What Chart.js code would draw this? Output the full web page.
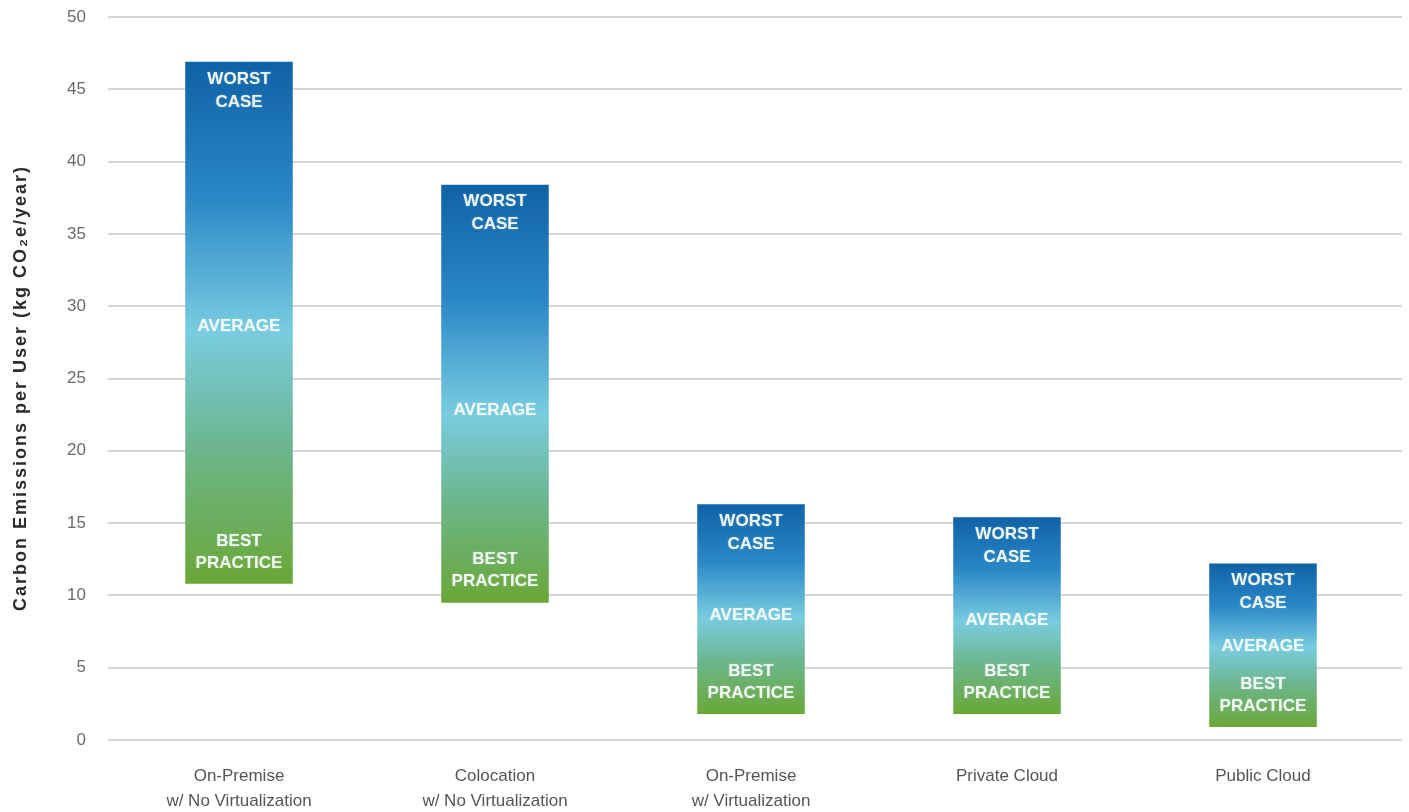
<!DOCTYPE html>
<html><head><meta charset="utf-8">
<script src="https://cdn.jsdelivr.net/npm/chart.js@4.4.0/dist/chart.umd.min.js"></script>
<style>html,body{margin:0;padding:0;background:#fff;}#wrap{width:1409px;height:812px;}</style>
</head><body><div id="wrap"><canvas id="c" width="1409" height="812"></canvas></div>
<script>
const categories = [["On-Premise","w/ No Virtualization"],["Colocation","w/ No Virtualization"],["On-Premise","w/ Virtualization"],"Private Cloud","Public Cloud"];
const worstCase = [46.9, 38.4, 16.3, 15.4, 12.2];
const averageCase = [28.6, 22.8, 8.6, 8.3, 6.5];
const bestPractice = [10.8, 9.5, 1.8, 1.8, 0.9];
const yTickValues = [0, 5, 10, 15, 20, 25, 30, 35, 40, 45, 50];
const yTitle = "Carbon Emissions per User (kg CO\u2082e/year)";
const worstLabel = ["WORST", "CASE"];
const avgLabel = "AVERAGE";
const bestLabel = ["BEST", "PRACTICE"];

const ranges = worstCase.map((w, i) => [bestPractice[i], w]);

function barGradient(ctx) {
  const chart = ctx.chart;
  if (!chart.chartArea || ctx.dataIndex === undefined) return '#3a9ad0';
  const i = ctx.dataIndex, y = chart.scales.y;
  const top = y.getPixelForValue(worstCase[i]);
  const bot = y.getPixelForValue(bestPractice[i]);
  const mid = y.getPixelForValue(averageCase[i]);
  const m = Math.min(0.9, Math.max(0.1, (mid - top) / (bot - top) + 0.01));
  const g = chart.ctx.createLinearGradient(0, top, 0, bot);
  g.addColorStop(0, '#0f62a6');
  g.addColorStop(m * 0.5, '#2a87c6');
  g.addColorStop(m, '#79cce0');
  g.addColorStop(m + (1 - m) * 0.45, '#6cb68e');
  g.addColorStop(1, '#6aa736');
  return g;
}

const gridPlugin = {
  id: 'grid',
  beforeDatasetsDraw(chart) {
    const c = chart.ctx, y = chart.scales.y;
    c.save();
    c.strokeStyle = '#d6d6d6';
    c.lineWidth = 2;
    yTickValues.forEach(v => {
      const py = Math.round(y.getPixelForValue(v));
      c.beginPath(); c.moveTo(108, py); c.lineTo(1402, py); c.stroke();
    });
    c.restore();
  }
};

const labelPlugin = {
  id: 'barLabels',
  afterDatasetsDraw(chart) {
    const c = chart.ctx, y = chart.scales.y;
    const meta = chart.getDatasetMeta(0);
    c.save();
    c.font = 'bold 17px "Liberation Sans", Arial, sans-serif';
    c.fillStyle = 'rgba(246,252,250,0.95)';
    c.textAlign = 'center';
    c.textBaseline = 'middle';
    c.shadowColor = 'rgba(255,255,255,0.35)';
    c.shadowBlur = 2;
    meta.data.forEach((el, i) => {
      const x = el.x;
      const top = y.getPixelForValue(worstCase[i]);
      const bot = y.getPixelForValue(bestPractice[i]);
      const mid = y.getPixelForValue(averageCase[i]);
      c.fillText(worstLabel[0], x, top + 17);
      c.fillText(worstLabel[1], x, top + 40);
      c.fillText(avgLabel, x, mid);
      c.fillText(bestLabel[0], x, bot - 43);
      c.fillText(bestLabel[1], x, bot - 21);
    });
    c.restore();
  }
};

const titlePlugin = {
  id: 'yTitle',
  afterDraw(chart) {
    const c = chart.ctx;
    c.save();
    c.translate(21, 388);
    c.rotate(-Math.PI / 2);
    c.font = 'bold 18px "Liberation Sans", Arial, sans-serif';
    if ('letterSpacing' in c) c.letterSpacing = '2px';
    c.fillStyle = '#2b2b2b';
    c.textAlign = 'center';
    c.textBaseline = 'middle';
    c.fillText(yTitle, 0, 0);
    c.restore();
  }
};

new Chart(document.getElementById('c'), {
  type: 'bar',
  data: {
    labels: categories,
    datasets: [{
      data: ranges,
      backgroundColor: barGradient,
      borderWidth: 0,
      borderSkipped: false,
      barPercentage: 0.42,
      categoryPercentage: 1.0
    }]
  },
  options: {
    responsive: false,
    animation: false,
    devicePixelRatio: 1,
    layout: { padding: { top: 17, right: 18, left: 0, bottom: 0 } },
    plugins: { legend: { display: false }, tooltip: { enabled: false } },
    scales: {
      x: {
        grid: { display: false, drawTicks: false },
        border: { display: false },
        ticks: {
          color: '#555',
          font: { family: '"Liberation Sans", Arial, sans-serif', size: 17, lineHeight: 1.47 },
          padding: 24,
          maxRotation: 0,
          autoSkip: false
        },
        afterFit(s) { s.height = 72; }
      },
      y: {
        min: 0, max: 50,
        grid: { display: false, drawTicks: false },
        border: { display: false },
        afterBuildTicks(s) { s.ticks = yTickValues.map(v => ({ value: v })); },
        ticks: {
          color: '#6a6a6a',
          font: { family: '"Liberation Sans", Arial, sans-serif', size: 17 },
          padding: 25
        },
        afterFit(s) { s.width = 111; s.paddingTop = 0; s.paddingBottom = 0; }
      }
    }
  },
  plugins: [gridPlugin, labelPlugin, titlePlugin]
});
</script>
</body></html>
